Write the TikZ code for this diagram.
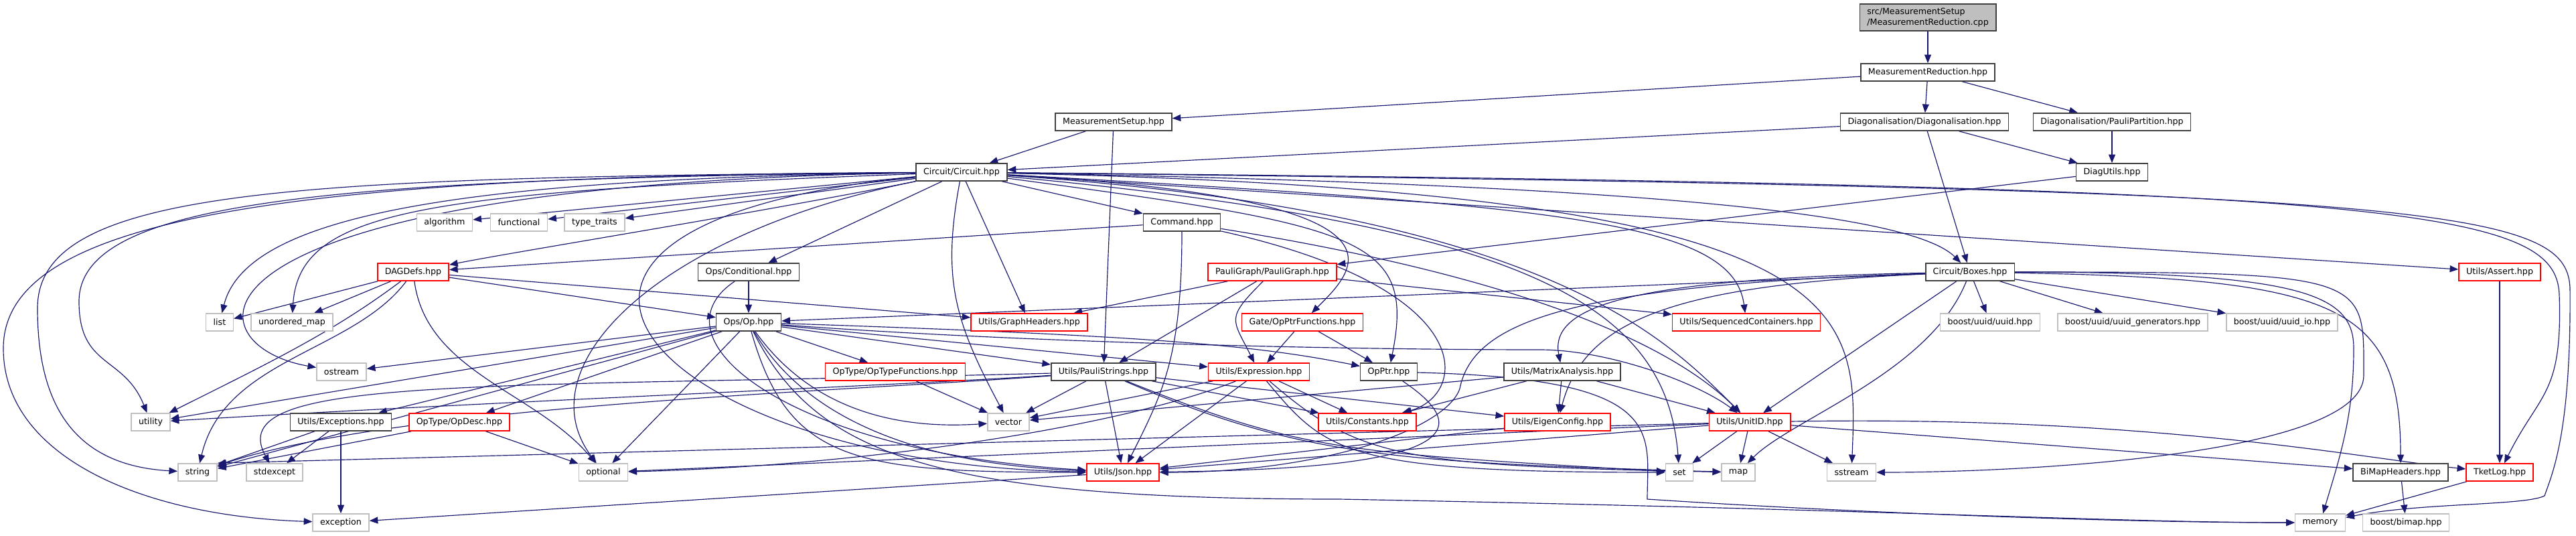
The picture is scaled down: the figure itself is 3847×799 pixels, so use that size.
\documentclass[tikz,border=0pt]{standalone}
\usepackage{fontspec}
\setmainfont{DejaVu Sans}
\usetikzlibrary{arrows.meta}
\definecolor{edgeblue}{HTML}{191970}
\definecolor{sysgray}{HTML}{BFBFBF}
\definecolor{mainfill}{HTML}{BFBFBF}
\pgfdeclarelayer{edges}
\pgfsetlayers{edges,main}

\begin{document}
\begin{tikzpicture}[
    x=0.03cm, y=-0.03cm,
    box/.style={rectangle, draw, fill=white, line width=1.3pt, minimum height=0.78cm, inner xsep=0.33cm, inner ysep=0pt, font=\fontsize{10.8}{13}\selectfont},
    hdr/.style={box, draw=black!75},
    trunc/.style={box, draw=red},
    sys/.style={box, draw=sysgray},
    srcfile/.style={box, draw=black!75, fill=mainfill, align=left, minimum height=1.2cm},
    arrow/.style={-{Triangle[length=0.38cm, width=0.3cm]}, draw=edgeblue, line width=1pt},
]
\useasboundingbox (0,0) rectangle (3847,799);

\node[srcfile] (cpp) at (2879,26) {src/MeasurementSetup\\/MeasurementReduction.cpp};
\node[hdr] (mrhpp) at (2879,108) {MeasurementReduction.hpp};
\node[hdr] (msetup) at (1663,182) {MeasurementSetup.hpp};
\node[hdr] (diag) at (2874,182) {Diagonalisation/Diagonalisation.hpp};
\node[hdr] (ppart) at (3154,182) {Diagonalisation/PauliPartition.hpp};
\node[hdr] (circuit) at (1436,257) {Circuit/Circuit.hpp};
\node[hdr] (diagutils) at (3154,257) {DiagUtils.hpp};

\node[sys] (algorithm) at (664,332) {algorithm};
\node[sys] (functional) at (775,332) {functional};
\node[sys] (typetraits) at (888,332) {type\_traits};
\node[hdr] (command) at (1765,332) {Command.hpp};

\node[trunc] (dagdefs) at (617,406) {DAGDefs.hpp};
\node[hdr] (conditional) at (1118,406) {Ops/Conditional.hpp};
\node[trunc] (pauligraph) at (1900,406) {PauliGraph/PauliGraph.hpp};
\node[hdr] (boxes) at (2942,406) {Circuit/Boxes.hpp};
\node[trunc] (assert) at (3733,406) {Utils/Assert.hpp};

\node[sys] (list) at (328,481) {list};
\node[sys] (umap) at (436,481) {unordered\_map};
\node[hdr] (op) at (1118,481) {Ops/Op.hpp};
\node[trunc] (graphh) at (1537,481) {Utils/GraphHeaders.hpp};
\node[trunc] (opptrf) at (1945,481) {Gate/OpPtrFunctions.hpp};
\node[trunc] (seqc) at (2608,481) {Utils/SequencedContainers.hpp};
\node[sys] (uuid) at (2972,481) {boost/uuid/uuid.hpp};
\node[sys] (uuidgen) at (3185,481) {boost/uuid/uuid\_generators.hpp};
\node[sys] (uuidio) at (3408,481) {boost/uuid/uuid\_io.hpp};

\node[sys] (ostream) at (510,555) {ostream};
\node[trunc] (optypef) at (1337,555) {OpType/OpTypeFunctions.hpp};
\node[hdr] (paulis) at (1648,555) {Utils/PauliStrings.hpp};
\node[trunc] (expr) at (1880,555) {Utils/Expression.hpp};
\node[hdr] (opptr) at (2074,555) {OpPtr.hpp};
\node[hdr] (matrix) at (2333,555) {Utils/MatrixAnalysis.hpp};

\node[sys] (utility) at (225,630) {utility};
\node[hdr] (exceptions) at (509,630) {Utils/Exceptions.hpp};
\node[trunc] (opdesc) at (686,630) {OpType/OpDesc.hpp};
\node[sys] (vector) at (1506,630) {vector};
\node[trunc] (constants) at (2042,630) {Utils/Constants.hpp};
\node[trunc] (eigen) at (2326,630) {Utils/EigenConfig.hpp};
\node[trunc] (unitid) at (2613,630) {Utils/UnitID.hpp};

\node[sys] (string) at (295,705) {string};
\node[sys] (stdexcept) at (410,705) {stdexcept};
\node[sys] (optional) at (901,705) {optional};
\node[trunc] (json) at (1677,705) {Utils/Json.hpp};
\node[sys] (set) at (2508,705) {set};
\node[sys] (map) at (2596,705) {map};
\node[sys] (sstream) at (2765,705) {sstream};
\node[hdr] (bimaph) at (3585,705) {BiMapHeaders.hpp};
\node[trunc] (tketlog) at (3733,705) {TketLog.hpp};

\node[sys] (exception) at (509,780) {exception};
\node[sys] (memory) at (3465,780) {memory};
\node[sys] (bimap) at (3593,780) {boost/bimap.hpp};

\begin{pgfonlayer}{edges}
\draw[arrow] (cpp) -- (mrhpp);
\draw[arrow] (mrhpp) -- (msetup);
\draw[arrow] (mrhpp) -- (diag);
\draw[arrow] (mrhpp) -- (ppart);
\draw[arrow] (msetup) -- (circuit);
\draw[arrow] (msetup) -- (paulis);
\draw[arrow] (diag) -- (circuit);
\draw[arrow] (diag) -- (diagutils);
\draw[arrow] (diag) -- (boxes);
\draw[arrow] (ppart) -- (diagutils);
\draw[arrow] (diagutils) -- (pauligraph);

\draw[arrow] (circuit) -- (algorithm);
\draw[arrow] (circuit) -- (functional);
\draw[arrow] (circuit) -- (typetraits);
\draw[arrow] (circuit) -- (command);
\draw[arrow] (circuit) -- (conditional);
\draw[arrow] (circuit) -- (graphh);
\draw[arrow] (circuit) -- (assert);
\draw[arrow] (circuit) .. controls +(-300,60) and +(150,-30) .. (dagdefs);
\draw[arrow] (circuit) .. controls +(-750,10) and +(40,-160) .. (list);
\draw[arrow] (circuit) .. controls +(-800,30) and +(10,-170) .. (umap);
\draw[arrow] (circuit) .. controls +(-950,10) and +(0,-150) .. (118,450) .. controls +(0,100) and +(-40,-100) .. (utility);
\draw[arrow] (circuit) .. controls +(-1000,8) and +(0,-180) .. (56,460) .. controls +(0,150) and +(-180,-10) .. (string);
\draw[arrow] (circuit) .. controls +(-1036,5) and +(0,-190) .. (5,520) .. controls +(0,160) and +(-300,-10) .. (exception);
\draw[arrow] (circuit) .. controls +(-1200,20) and +(-230,-40) .. (ostream);
\draw[arrow] (circuit) .. controls +(-450,90) and +(-120,-160) .. (optional);
\draw[arrow] (circuit) .. controls +(-30,160) and +(-80,-150) .. (vector);
\draw[arrow] (circuit) .. controls +(-800,80) and +(-700,-10) .. (json);
\draw[arrow] (circuit) .. controls +(1100,20) and +(-80,-80) .. (boxes);
\draw[arrow] (circuit) .. controls +(2150,20) and +(-5,-130) .. (3822,440) .. controls +(5,150) and +(60,-120) .. (tketlog);
\draw[arrow] (circuit) .. controls +(2200,25) and +(-5,-120) .. (3838,430) .. controls +(2,220) and +(10,-30) .. (3800,740) .. controls +(-30,15) and +(150,-30) .. (memory);
\draw[arrow] (circuit) .. controls +(900,50) and +(-20,-150) .. (seqc);
\draw[arrow] (circuit) .. controls +(870,60) and +(-130,-130) .. (unitid);
\draw[arrow] (circuit) .. controls +(850,80) and +(-20,-250) .. (set);
\draw[arrow] (circuit) .. controls +(1350,30) and +(10,-250) .. (sstream);
\draw[arrow] (circuit) .. controls +(700,40) and +(80,-80) .. (opptrf);
\draw[arrow] (circuit) .. controls +(600,80) and +(40,-200) .. (opptr);

\draw[arrow] (command) -- (dagdefs);
\draw[arrow] (command) .. controls +(0,200) and +(60,-120) .. (json);
\draw[arrow] (command) .. controls +(500,80) and +(-120,-120) .. (unitid);
\draw[arrow] (command) .. controls +(450,100) and +(150,-40) .. (constants);

\draw[arrow] (conditional) -- (op);
\draw[arrow] (conditional) .. controls +(-150,100) and +(-500,-30) .. (json);

\draw[arrow] (dagdefs) -- (list);
\draw[arrow] (dagdefs) -- (umap);
\draw[arrow] (dagdefs) .. controls +(-120,90) and +(180,-90) .. (utility);
\draw[arrow] (dagdefs) .. controls +(-90,120) and +(40,-170) .. (string);
\draw[arrow] (dagdefs) .. controls +(20,150) and +(-100,-120) .. (optional);
\draw[arrow] (dagdefs) -- (op);
\draw[arrow] (dagdefs) -- (graphh);

\draw[arrow] (pauligraph) -- (graphh);
\draw[arrow] (pauligraph) -- (paulis);
\draw[arrow] (pauligraph) .. controls +(-70,70) and +(-40,-80) .. (expr);
\draw[arrow] (pauligraph) -- (seqc);

\draw[arrow] (op) -- (ostream);
\draw[arrow] (op) -- (utility);
\draw[arrow] (op) -- (string);
\draw[arrow] (op) -- (exceptions);
\draw[arrow] (op) -- (opdesc);
\draw[arrow] (op) -- (optional);
\draw[arrow] (op) -- (optypef);
\draw[arrow] (op) -- (paulis);
\draw[arrow] (op) -- (expr);
\draw[arrow] (op) .. controls +(100,140) and +(-150,10) .. (vector);
\draw[arrow] (op) .. controls +(600,20) and +(-200,-40) .. (opptr);
\draw[arrow] (op) .. controls +(100,170) and +(-250,-10) .. (json);
\draw[arrow] (op) .. controls +(60,210) and +(-400,0) .. (json);
\draw[arrow] (op) .. controls +(400,30) and +(-300,0) .. (2300,522) .. controls +(100,0) and +(-80,-60) .. (unitid);
\draw[arrow] (op) .. controls +(100,200) and +(-600,0) .. (2000,745) .. controls +(800,15) and +(-300,0) .. (memory);

\draw[arrow] (opptrf) -- (expr);
\draw[arrow] (opptrf) -- (opptr);
\draw[arrow] (optypef) -- (vector);

\draw[arrow] (paulis) -- (vector);
\draw[arrow] (paulis) -- (json);
\draw[arrow] (paulis) -- (constants);
\draw[arrow] (paulis) -- (eigen);
\draw[arrow] (paulis) .. controls +(-300,20) and +(500,-30) .. (utility);
\draw[arrow] (paulis) .. controls +(-400,30) and +(300,-100) .. (string);
\draw[arrow] (paulis) .. controls +(-948,25) and +(-80,-145) .. (stdexcept);
\draw[arrow] (paulis) .. controls +(300,120) and +(-500,-30) .. (set);
\draw[arrow] (paulis) .. controls +(300,130) and +(-500,-15) .. (map);

\draw[arrow] (expr) -- (vector);
\draw[arrow] (expr) -- (constants);
\draw[arrow] (expr) -- (json);
\draw[arrow] (expr) .. controls +(-200,80) and +(400,-10) .. (optional);
\draw[arrow] (expr) .. controls +(100,120) and +(-500,0) .. (set);
\draw[arrow] (expr) .. controls +(150,130) and +(-500,-10) .. (map);

\draw[arrow] (opptr) .. controls +(150,100) and +(450,-5) .. (json);
\draw[arrow] (opptr) .. controls +(420,10) and +(0,-100) .. (2460,745) .. controls +(300,20) and +(-300,0) .. (memory);

\draw[arrow] (matrix) -- (vector);
\draw[arrow] (matrix) -- (constants);
\draw[arrow] (matrix) -- (eigen);
\draw[arrow] (matrix) -- (unitid);

\draw[arrow] (boxes) -- (op);
\draw[arrow] (boxes) -- (uuid);
\draw[arrow] (boxes) -- (uuidgen);
\draw[arrow] (boxes) -- (uuidio);
\draw[arrow] (boxes) -- (unitid);
\draw[arrow] (boxes) .. controls +(-500,10) and +(-20,-100) .. (matrix);
\draw[arrow] (boxes) .. controls +(-450,20) and +(40,-150) .. (eigen);
\draw[arrow] (boxes) .. controls +(-60,150) and +(80,-80) .. (map);
\draw[arrow] (boxes) .. controls +(-600,20) and +(20,-100) .. (2180,580) .. controls +(-20,60) and +(300,0) .. (json);
\draw[arrow] (boxes) .. controls +(550,10) and +(0,-250) .. (bimaph);
\draw[arrow] (boxes) .. controls +(500,0) and +(0,-80) .. (3515,520) .. controls +(0,100) and +(30,-100) .. (memory);
\draw[arrow] (boxes) .. controls +(600,0) and +(0,-150) .. (3530,560) .. controls +(0,120) and +(250,0) .. (sstream);

\draw[arrow] (unitid) -- (set);
\draw[arrow] (unitid) -- (map);
\draw[arrow] (unitid) -- (sstream);
\draw[arrow] (unitid) -- (string.north east);
\draw[arrow] (unitid) -- (optional);
\draw[arrow] (unitid) -- (json);
\draw[arrow] (unitid) -- (bimaph);
\draw[arrow] (unitid) .. controls +(600,-10) and +(-200,-20) .. (tketlog);

\draw[arrow] (exceptions) -- (string);
\draw[arrow] (exceptions) -- (stdexcept);
\draw[arrow] (exceptions) -- (exception);
\draw[arrow] (opdesc) -- (string);
\draw[arrow] (opdesc) -- (optional);
\draw[arrow] (json) -- (exception);
\draw[arrow] (eigen) -- (json);
\draw[arrow] (assert) -- (tketlog);
\draw[arrow] (tketlog) -- (memory);
\draw[arrow] (bimaph) -- (bimap);
\end{pgfonlayer}

\end{tikzpicture}
\end{document}
